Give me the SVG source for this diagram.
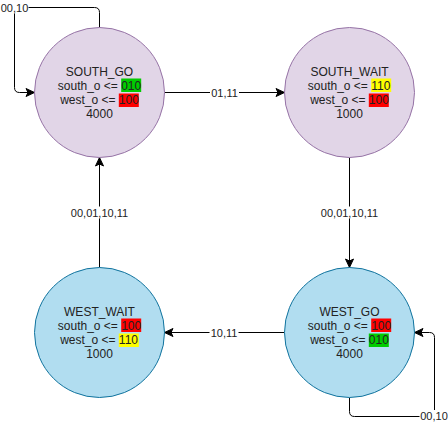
<svg xmlns="http://www.w3.org/2000/svg" width="448" height="426" viewBox="0 0 448 426">
<style>
.purple{fill:#e1d5e7;stroke:#9673a6;stroke-width:1}
.blue{fill:#b1ddf0;stroke:#10739e;stroke-width:1}
.t{font-family:"Liberation Sans",Arial,sans-serif;font-size:12px;fill:#222}
.tm{text-anchor:middle}
.lbl{font-family:"Liberation Sans",Arial,sans-serif;font-size:11px;fill:#222;text-anchor:middle}
.bg{fill:#ffffff}
.e{fill:none;stroke:#000;stroke-width:1}
.g{fill:#00cc00}.r{fill:#ff0000}.y{fill:#ffff00}
</style>
<defs>
<marker id="arr" markerUnits="userSpaceOnUse" orient="auto" markerWidth="12" markerHeight="12" refX="0" refY="0" viewBox="-10 -6 12 12" overflow="visible">
<path d="M0,0 L-8.5,-4 L-6.5,0 L-8.5,4 Z" fill="#000" stroke="#000" stroke-width="1" stroke-linejoin="miter"/>
</marker>
</defs>
<g id="edges">
<path class="e" d="M99.5,27.5 L99.5,12.5 Q99.5,7.5 94.5,7.5 L19.5,7.5 Q14.5,7.5 14.5,12.5 L14.5,87.5 Q14.5,92.5 19.5,92.5 L34.5,92.5" marker-end="url(#arr)"/>
<rect class="bg" x="0.5" y="1.5" width="28" height="12"/>
<text class="lbl" x="14.5" y="11.5">00,10</text>
<path class="e" d="M164.5,92.5 L284.5,92.5" marker-end="url(#arr)"/>
<rect class="bg" x="210" y="86.5" width="29" height="12"/>
<text class="lbl" x="224.5" y="96.5">01,11</text>
<path class="e" d="M349.5,157.5 L349.5,267.5" marker-end="url(#arr)"/>
<rect class="bg" x="320" y="206.5" width="59" height="12"/>
<text class="lbl" x="349.5" y="216.5">00,01,10,11</text>
<path class="e" d="M284.5,332.5 L164.5,332.5" marker-end="url(#arr)"/>
<rect class="bg" x="209.5" y="326.5" width="29" height="12"/>
<text class="lbl" x="224" y="336.5">10,11</text>
<path class="e" d="M99.5,267.5 L99.5,157.5" marker-end="url(#arr)"/>
<rect class="bg" x="70" y="206.5" width="59" height="12"/>
<text class="lbl" x="99.5" y="216.5">00,01,10,11</text>
<path class="e" d="M349.5,397.5 L349.5,411.5 Q349.5,416.5 354.5,416.5 L429.5,416.5 Q434.5,416.5 434.5,411.5 L434.5,337.5 Q434.5,332.5 429.5,332.5 L414.5,332.5" marker-end="url(#arr)"/>
<rect class="bg" x="419.5" y="410" width="28.5" height="12"/>
<text class="lbl" x="434" y="420">00,10</text>
</g>
<g id="SOUTH_GO">
<circle class="purple" cx="99.5" cy="92.5" r="65"/>
<rect class="g" x="121.2" y="78.5" width="20" height="13.5"/>
<rect class="r" x="118.8" y="93.5" width="20" height="13.5"/>
<text class="t tm" x="99.5" y="75.5">SOUTH_GO</text>
<text class="t" x="57.8" y="89.5">south_o &lt;= 010</text>
<text class="t" x="60.15" y="103.5">west_o &lt;= 100</text>
<text class="t tm" x="99.5" y="117.5">4000</text>
</g>
<g id="SOUTH_WAIT">
<circle class="purple" cx="349.5" cy="92.5" r="65"/>
<rect class="y" x="371.2" y="78.5" width="20" height="13.5"/>
<rect class="r" x="368.8" y="93.5" width="20" height="13.5"/>
<text class="t tm" x="349.5" y="75.5">SOUTH_WAIT</text>
<text class="t" x="307.8" y="89.5">south_o &lt;= 110</text>
<text class="t" x="310.15" y="103.5">west_o &lt;= 100</text>
<text class="t tm" x="349.5" y="117.5">1000</text>
</g>
<g id="WEST_WAIT">
<circle class="blue" cx="99.5" cy="332.5" r="65"/>
<rect class="r" x="121.2" y="318.5" width="20" height="13.5"/>
<rect class="y" x="118.8" y="333.5" width="20" height="13.5"/>
<text class="t tm" x="99.5" y="315.5">WEST_WAIT</text>
<text class="t" x="57.8" y="329.5">south_o &lt;= 100</text>
<text class="t" x="60.15" y="343.5">west_o &lt;= 110</text>
<text class="t tm" x="99.5" y="357.5">1000</text>
</g>
<g id="WEST_GO">
<circle class="blue" cx="349.5" cy="332.5" r="65"/>
<rect class="r" x="371.2" y="318.5" width="20" height="13.5"/>
<rect class="g" x="368.8" y="333.5" width="20" height="13.5"/>
<text class="t tm" x="349.5" y="315.5">WEST_GO</text>
<text class="t" x="307.8" y="329.5">south_o &lt;= 100</text>
<text class="t" x="310.15" y="343.5">west_o &lt;= 010</text>
<text class="t tm" x="349.5" y="357.5">4000</text>
</g>
</svg>
